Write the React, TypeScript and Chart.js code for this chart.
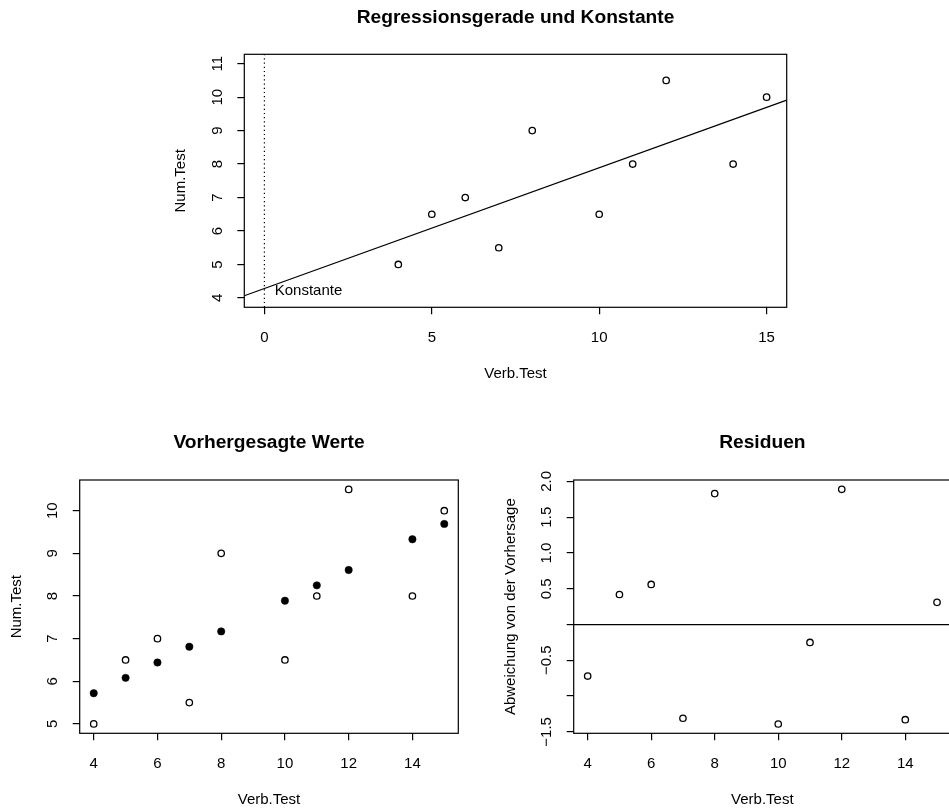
import React, { useEffect, useRef } from "react";
import { Chart, registerables } from "chart.js";

Chart.register(...registerables);

// ---- data ----
const verbTest = [4, 5, 6, 7, 8, 10, 11, 12, 14, 15];
const numTest = [5, 6.5, 7, 5.5, 9, 6.5, 8, 10.5, 8, 10];
const predictedNum = [5.72, 6.08, 6.44, 6.81, 7.17, 7.89, 8.25, 8.61, 9.33, 9.69];
const residuals = [-0.72, 0.42, 0.56, -1.31, 1.83, -1.39, -0.25, 1.89, -1.33, 0.31];

const regIntercept = 4.28;
const regSlope = 0.361;

const topXTicks = [0, 5, 10, 15];
const topXLabels = ["0", "5", "10", "15"];
const topYTicks = [4, 5, 6, 7, 8, 9, 10, 11];
const topYLabels = ["4", "5", "6", "7", "8", "9", "10", "11"];
const predXTicks = [4, 6, 8, 10, 12, 14];
const predXLabels = ["4", "6", "8", "10", "12", "14"];
const predYTicks = [5, 6, 7, 8, 9, 10];
const predYLabels = ["5", "6", "7", "8", "9", "10"];
const resXTicks = [4, 6, 8, 10, 12, 14];
const resXLabels = ["4", "6", "8", "10", "12", "14"];
const resYTicks = [-1.5, -1, -0.5, 0, 0.5, 1, 1.5, 2];
const resYLabels = ["\u22121.5", "", "\u22120.5", "", "0.5", "1.0", "1.5", "2.0"];

const titleTop = "Regressionsgerade und Konstante";
const titlePred = "Vorhergesagte Werte";
const titleRes = "Residuen";
const xAxisTitle = "Verb.Test";
const yAxisTitleNum = "Num.Test";
const yAxisTitleRes = "Abweichung von der Vorhersage";
const konstanteLabel = "Konstante";
const konstanteX = 0;

const FONT = "'Liberation Sans', Arial, Helvetica, sans-serif";

type Spec = {
  title: string;
  xTitle: string;
  yTitle: string;
  xMin: number;
  xMax: number;
  yMin: number;
  yMax: number;
  xTicks: number[];
  xLabels: string[];
  yTicks: number[];
  yLabels: string[];
  datasets: any[];
  extra?: (chart: any) => void;
};

const openPoints = (xs: number[], ys: number[]) => ({
  data: xs.map((x, i) => ({ x, y: ys[i] })),
  showLine: false,
  pointStyle: "circle",
  pointRadius: 3.2,
  pointBorderWidth: 1.3,
  pointBorderColor: "#000",
  pointBackgroundColor: "rgba(0,0,0,0)",
});

const filledPoints = (xs: number[], ys: number[]) => ({
  data: xs.map((x, i) => ({ x, y: ys[i] })),
  showLine: false,
  pointStyle: "circle",
  pointRadius: 3.7,
  pointBorderWidth: 0.5,
  pointBorderColor: "#000",
  pointBackgroundColor: "#000",
});

const lineSet = (pts: { x: number; y: number }[], dash: number[] = []) => ({
  data: pts,
  showLine: true,
  pointRadius: 0,
  borderColor: "#000",
  borderWidth: 1.2,
  borderDash: dash,
  fill: false,
});

function scaleOpts(axis: "x" | "y", min: number, max: number, ticks: number[]) {
  return {
    type: "linear",
    position: axis === "x" ? "bottom" : "left",
    min,
    max,
    bounds: "data",
    afterFit: (s: any) => {
      if (axis === "x") s.height = 0;
      else s.width = 0;
    },
    afterBuildTicks: (s: any) => {
      s.ticks = ticks.map((v) => ({ value: v }));
    },
    ticks: { display: false },
    grid: {
      drawOnChartArea: false,
      drawTicks: true,
      tickLength: 7,
      color: "#000",
      lineWidth: 1.2,
    },
    border: { display: false },
    title: { display: false },
  };
}

function makePlugin(spec: Spec) {
  return {
    id: "rAxes",
    afterDraw(chart: any) {
      const { ctx, chartArea: a, scales } = chart;
      const xs = scales.x;
      const ys = scales.y;
      ctx.save();
      ctx.strokeStyle = "#000";
      ctx.lineWidth = 1.2;
      ctx.strokeRect(a.left, a.top, a.right - a.left, a.bottom - a.top);
      ctx.fillStyle = "#000";
      ctx.font = `15px ${FONT}`;
      ctx.textAlign = "center";
      ctx.textBaseline = "alphabetic";
      spec.xTicks.forEach((v, i) => {
        const lbl = spec.xLabels[i];
        if (!lbl) return;
        ctx.fillText(lbl, xs.getPixelForValue(v), a.bottom + 35);
      });
      ctx.fillText(spec.xTitle, (a.left + a.right) / 2, a.bottom + 71);
      spec.yTicks.forEach((v, i) => {
        const lbl = spec.yLabels[i];
        if (!lbl) return;
        ctx.save();
        ctx.translate(a.left - 22.5, ys.getPixelForValue(v));
        ctx.rotate(-Math.PI / 2);
        ctx.fillText(lbl, 0, 0);
        ctx.restore();
      });
      ctx.save();
      ctx.translate(a.left - 59, (a.top + a.bottom) / 2);
      ctx.rotate(-Math.PI / 2);
      ctx.fillText(spec.yTitle, 0, 0);
      ctx.restore();
      ctx.font = `bold 19.2px ${FONT}`;
      ctx.fillText(spec.title, (a.left + a.right) / 2, a.top - 31.7);
      if (spec.extra) spec.extra(chart);
      ctx.restore();
    },
  };
}

type PanelProps = {
  spec: Spec;
  left: number;
  top: number;
  width: number;
  height: number;
  padding: { left: number; top: number; right: number; bottom: number };
};

function Panel({ spec, left, top, width, height, padding }: PanelProps) {
  const ref = useRef<HTMLCanvasElement | null>(null);
  useEffect(() => {
    if (!ref.current) return;
    const chart = new Chart(ref.current, {
      type: "scatter",
      data: { datasets: spec.datasets },
      options: {
        responsive: false,
        animation: false,
        devicePixelRatio: 1,
        events: [],
        layout: { padding },
        plugins: {
          legend: { display: false },
          tooltip: { enabled: false },
          title: { display: false },
        },
        scales: {
          x: scaleOpts("x", spec.xMin, spec.xMax, spec.xTicks),
          y: scaleOpts("y", spec.yMin, spec.yMax, spec.yTicks),
        },
      } as any,
      plugins: [makePlugin(spec)],
    });
    return () => chart.destroy();
  }, []);
  return (
    <canvas
      ref={ref}
      width={width}
      height={height}
      style={{ position: "absolute", left, top, width, height }}
    />
  );
}

const topXMin = -0.6;
const topXMax = 15.6;
const topYMin = 3.72;
const topYMax = 11.28;

const topSpec: Spec = {
  title: titleTop,
  xTitle: xAxisTitle,
  yTitle: yAxisTitleNum,
  xMin: topXMin,
  xMax: topXMax,
  yMin: topYMin,
  yMax: topYMax,
  xTicks: topXTicks,
  xLabels: topXLabels,
  yTicks: topYTicks,
  yLabels: topYLabels,
  datasets: [
    lineSet(
      [
        { x: topXMin, y: regIntercept + regSlope * topXMin },
        { x: topXMax, y: regIntercept + regSlope * topXMax },
      ],
      []
    ),
    lineSet(
      [
        { x: konstanteX, y: topYMin },
        { x: konstanteX, y: topYMax },
      ],
      [1.2, 3]
    ),
    openPoints(verbTest, numTest),
  ],
  extra: (chart: any) => {
    const { ctx, scales } = chart;
    ctx.font = `15px ${FONT}`;
    ctx.textAlign = "left";
    ctx.textBaseline = "alphabetic";
    ctx.fillText(
      konstanteLabel,
      scales.x.getPixelForValue(konstanteX) + 10.3,
      scales.y.getPixelForValue(regIntercept) + 6.5
    );
  },
};

const predSpec: Spec = {
  title: titlePred,
  xTitle: xAxisTitle,
  yTitle: yAxisTitleNum,
  xMin: 3.56,
  xMax: 15.44,
  yMin: 4.78,
  yMax: 10.72,
  xTicks: predXTicks,
  xLabels: predXLabels,
  yTicks: predYTicks,
  yLabels: predYLabels,
  datasets: [openPoints(verbTest, numTest), filledPoints(verbTest, predictedNum)],
};

const resXMin = 3.56;
const resXMax = 15.44;
const resSpec: Spec = {
  title: titleRes,
  xTitle: xAxisTitle,
  yTitle: yAxisTitleRes,
  xMin: resXMin,
  xMax: resXMax,
  yMin: -1.52,
  yMax: 2.02,
  xTicks: resXTicks,
  xLabels: resXLabels,
  yTicks: resYTicks,
  yLabels: resYLabels,
  datasets: [
    lineSet([
      { x: resXMin, y: 0 },
      { x: resXMax, y: 0 },
    ]),
    openPoints(verbTest, residuals),
  ],
};

export default function App() {
  return (
    <div
      style={{
        position: "absolute",
        left: 0,
        top: 0,
        width: 949,
        height: 809,
        overflow: "hidden",
        background: "#fff",
      }}
    >
      <Panel
        spec={topSpec}
        left={0}
        top={0}
        width={949}
        height={400}
        padding={{ left: 244.3, top: 54.3, right: 162.3, bottom: 92.7 }}
      />
      <Panel
        spec={predSpec}
        left={0}
        top={400}
        width={475}
        height={409}
        padding={{ left: 79.7, top: 80, right: 16.7, bottom: 75.7 }}
      />
      <Panel
        spec={resSpec}
        left={475}
        top={400}
        width={520}
        height={409}
        padding={{ left: 98.7, top: 80, right: 44, bottom: 75.7 }}
      />
    </div>
  );
}
